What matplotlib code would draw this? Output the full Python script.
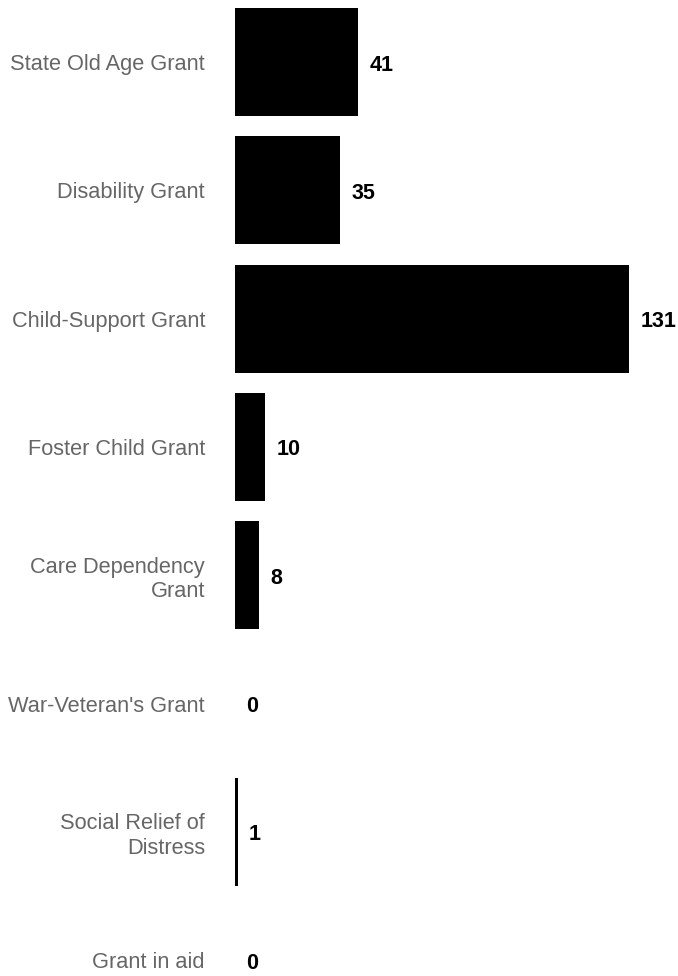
import matplotlib
matplotlib.use("Agg")
import matplotlib.pyplot as plt

categories = ["State Old Age Grant", "Disability Grant", "Child-Support Grant",
              "Foster Child Grant", "Care Dependency\nGrant", "War-Veteran's Grant",
              "Social Relief of\nDistress", "Grant in aid"]
values = [41, 35, 131, 10, 8, 0, 1, 0]

plt.rcParams['font.family'] = ['Liberation Sans', 'DejaVu Sans']
W, H = 678, 976
fig = plt.figure(figsize=(W / 100, H / 100), dpi=100)
left = 235 / W
ax = fig.add_axes([left, 0, 1 - left, 1])

scale = 3.008
spacing = 128.3
y0 = 62
ax.set_xlim(0, (W - 235) / scale)
ax.set_ylim((H - y0) / spacing, -y0 / spacing)

pos = list(range(len(categories)))
ax.barh(pos, values, height=108 / spacing, color="black")
ax.set_yticks(pos)
ax.set_yticklabels(categories, fontsize=15.7, color="#666666", ha="right")
ax.tick_params(axis="y", length=0, pad=21.6)
ax.set_xticks([])
for s in ax.spines.values():
    s.set_visible(False)

for p, v in zip(pos, values):
    ax.annotate(str(v), xy=(v, p), xytext=(8.0, -2.2), textcoords="offset points",
                ha="left", va="center", fontsize=15.5, fontweight="bold",
                color="black", annotation_clip=False)

fig.savefig("out.png", dpi=100)
